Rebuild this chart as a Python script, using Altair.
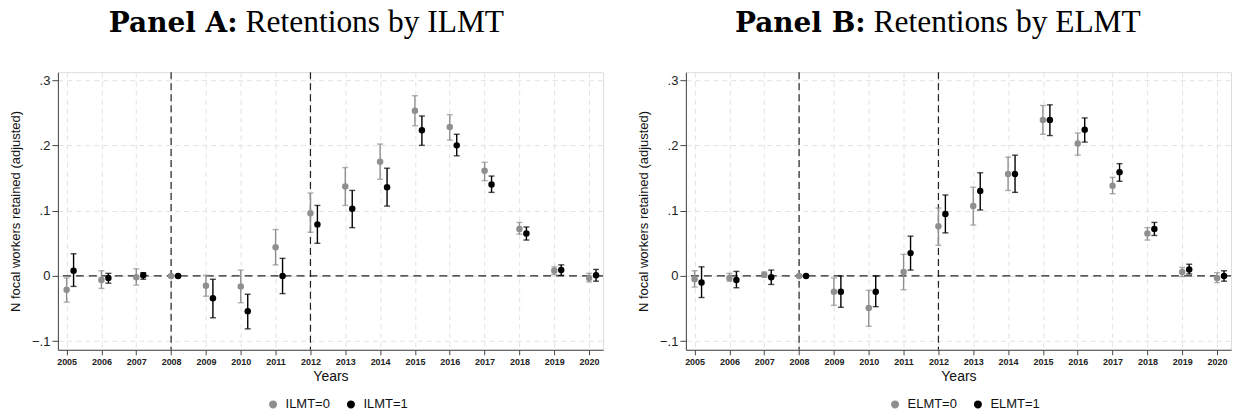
import altair as alt
import pandas as pd

years = list(range(2005, 2021))

# Panel A: ILMT
a0_est = [-0.021, -0.006, -0.002, 0.000, -0.015, -0.016, 0.044, 0.096, 0.137, 0.175, 0.253, 0.228, 0.161, 0.072, 0.008, -0.003]
a0_hi = [-0.003, 0.008, 0.011, None, 0.001, 0.009, 0.071, 0.127, 0.166, 0.202, 0.276, 0.247, 0.174, 0.082, 0.014, 0.004]
a0_lo = [-0.040, -0.019, -0.014, None, -0.031, -0.041, 0.017, 0.067, 0.108, 0.148, 0.230, 0.208, 0.146, 0.064, 0.002, -0.009]
a1_est = [0.008, -0.003, 0.001, 0.000, -0.034, -0.054, 0.000, 0.079, 0.103, 0.136, 0.223, 0.200, 0.140, 0.065, 0.009, 0.001]
a1_hi = [0.034, 0.004, 0.005, None, -0.005, -0.028, 0.027, 0.108, 0.131, 0.165, 0.245, 0.217, 0.153, 0.075, 0.017, 0.010]
a1_lo = [-0.016, -0.011, -0.005, None, -0.064, -0.081, -0.027, 0.050, 0.074, 0.107, 0.200, 0.184, 0.128, 0.055, 0.001, -0.008]

# Panel B: ELMT
b0_est = [-0.005, -0.003, 0.002, 0.000, -0.024, -0.049, 0.006, 0.076, 0.107, 0.156, 0.239, 0.203, 0.138, 0.065, 0.006, -0.003]
b0_hi = [0.008, 0.004, 0.006, None, -0.003, -0.022, 0.033, 0.104, 0.136, 0.182, 0.261, 0.219, 0.151, 0.074, 0.013, 0.005]
b0_lo = [-0.017, -0.008, -0.002, None, -0.045, -0.077, -0.021, 0.047, 0.078, 0.131, 0.217, 0.185, 0.126, 0.055, -0.001, -0.010]
b1_est = [-0.010, -0.006, -0.002, 0.000, -0.024, -0.024, 0.035, 0.095, 0.130, 0.156, 0.239, 0.224, 0.159, 0.072, 0.010, 0.000]
b1_hi = [0.014, 0.007, 0.009, None, 0.000, 0.000, 0.061, 0.124, 0.158, 0.185, 0.262, 0.242, 0.172, 0.082, 0.018, 0.008]
b1_lo = [-0.033, -0.018, -0.013, None, -0.048, -0.047, 0.009, 0.066, 0.101, 0.128, 0.215, 0.205, 0.145, 0.062, 0.003, -0.008]

event_years = [2008, 2012]
y_ticks = [-0.1, 0, 0.1, 0.2, 0.3]

GRAY = "#8f8f8f"
BLACK = "#000000"
SANS = "Liberation Sans"
SERIF = "Liberation Serif"
W, H = 546, 278


def make_df(labels, est0, lo0, hi0, est1, lo1, hi1):
    rows = []
    for i, yr in enumerate(years):
        rows.append(dict(x=yr, est=est0[i], lo=lo0[i], hi=hi0[i], grp=labels[0]))
        rows.append(dict(x=yr + 0.2, est=est1[i], lo=lo1[i], hi=hi1[i], grp=labels[1]))
    return pd.DataFrame(rows)


def panel(df, labels, bold_txt, reg_txt, leg_x):
    xs = alt.Scale(domain=[2004.75, 2020.4], nice=False, zero=False)
    ys = alt.Scale(domain=[-0.113, 0.312], nice=False, zero=False)
    cs = alt.Scale(domain=labels, range=[GRAY, BLACK])
    col = alt.Color("grp:N", scale=cs, legend=alt.Legend(
        title=None, orient="none", legendX=leg_x, legendY=326, direction="horizontal",
        symbolType="circle", symbolSize=42, symbolOpacity=1, labelFont=SANS,
        labelFontSize=13, labelColor="#111", columnPadding=14, labelOffset=6))

    xax = alt.Axis(values=years, format="d", title="Years", labelFontWeight="bold",
                   labelFontSize=9, labelFont=SANS, labelColor="#222", tickSize=5,
                   tickColor="#444", domainColor="#444", labelPadding=3, labelOverlap=False,
                   titleFont=SANS, titleFontSize=14, titleFontWeight="normal",
                   titleColor="#111", titlePadding=3, grid=True, gridDash=[5, 4],
                   gridColor="#e2e2e2")
    yax = alt.Axis(values=y_ticks, title="N focal workers retained (adjusted)",
                   labelExpr="datum.value == 0 ? '0' : replace(format(datum.value, '.1f'), '0.', '.')",
                   labelFontSize=13, labelFont=SANS, labelColor="#222", tickSize=6,
                   tickColor="#444", domainColor="#444", labelPadding=2, labelOverlap=False,
                   titleFont=SANS, titleFontSize=13, titleFontWeight="normal",
                   titleColor="#111", titlePadding=9, grid=True, gridDash=[5, 4],
                   gridColor="#e2e2e2")

    def X(f):
        return alt.X(f, type="quantitative", scale=xs, axis=xax)

    def Y(f):
        return alt.Y(f, type="quantitative", scale=ys, axis=yax)

    base = alt.Chart(df)
    pts = base.mark_circle(size=42, opacity=1).encode(x=X("x"), y=Y("est"), color=col)
    ci = base.transform_filter("datum.lo != null")
    bars = ci.mark_rule(strokeWidth=1.4).encode(x=X("x"), y=Y("lo"), y2="hi:Q", color=col)
    cap_lo = ci.mark_tick(thickness=1.4, size=6, orient="horizontal").encode(
        x=X("x"), y=Y("lo"), color=col)
    cap_hi = ci.mark_tick(thickness=1.4, size=6, orient="horizontal").encode(
        x=X("x"), y=Y("hi"), color=col)

    zero = alt.Chart(pd.DataFrame({"v": [0]})).mark_rule(
        color="#222", strokeDash=[8, 5], strokeWidth=1.3).encode(y=Y("v"))
    vlines = alt.Chart(pd.DataFrame({"v": event_years})).mark_rule(
        color="#222", strokeDash=[7, 4], strokeWidth=1.2).encode(x=X("v"))

    t1 = alt.Chart(pd.DataFrame({"t": [bold_txt]})).mark_text(
        font="DejaVu Serif", fontSize=28, fontWeight="bold", align="right",
        baseline="alphabetic", color="#000").encode(
        x=alt.value(180), y=alt.value(-40), text="t:N")
    t2 = alt.Chart(pd.DataFrame({"t": [reg_txt]})).mark_text(
        font=SERIF, fontSize=31.5, fontWeight="normal", align="left", baseline="alphabetic",
        color="#000").encode(x=alt.value(188), y=alt.value(-40), text="t:N")

    return alt.layer(zero, vlines, bars, cap_lo, cap_hi, pts, t1, t2).properties(
        width=W, height=H)


la = ["ILMT=0", "ILMT=1"]
lb = ["ELMT=0", "ELMT=1"]
pa = panel(make_df(la, a0_est, a0_lo, a0_hi, a1_est, a1_lo, a1_hi), la,
           "Panel A:", "Retentions by ILMT", 209)
pb = panel(make_df(lb, b0_est, b0_lo, b0_hi, b1_est, b1_lo, b1_hi), lb,
           "Panel B:", "Retentions by ELMT", 203)

chart = alt.hconcat(pa, pb, spacing=32).resolve_scale(color="independent").properties(
    padding={"left": 9, "top": 6, "right": 0, "bottom": 0}
).configure_view(stroke=None).configure(background="white")

chart.save("out.html", embed_options={"renderer": "svg", "actions": False})
